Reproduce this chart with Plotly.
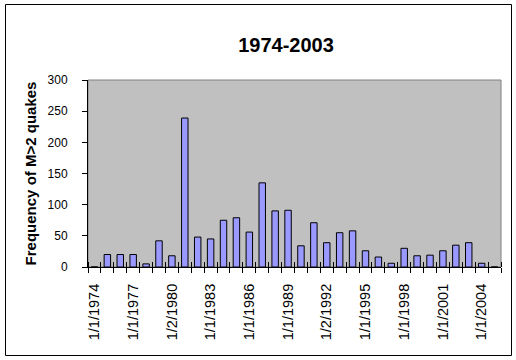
import plotly.graph_objects as go

years = list(range(1974, 2006))
quakes = [0, 20, 20, 20, 5, 42, 18, 239, 48, 45, 75, 79, 56, 135, 90, 91,
          34, 71, 39, 55, 58, 26, 16, 6, 30, 18, 19, 26, 35, 39, 6, 0]
label_years = [1974, 1977, 1980, 1983, 1986, 1989, 1992, 1995, 1998, 2001, 2004]
label_text = ["1/1/1974", "1/1/1977", "1/2/1980", "1/1/1983", "1/1/1986", "1/1/1989",
              "1/2/1992", "1/1/1995", "1/1/1998", "1/1/2001", "1/1/2004"]

W, H = 516, 360
L, R, T, B = 88, 15, 80, 93
pw, ph = W - L - R, H - T - B

fig = go.Figure()
fig.add_trace(go.Bar(
    x=years, y=quakes,
    marker=dict(color="#9999FF", line=dict(color="black", width=1)),
    width=0.5,
))

font = "Arial, Liberation Sans, sans-serif"
fig.update_layout(
    width=W, height=H,
    margin=dict(l=L, r=R, t=T, b=B, autoexpand=False),
    paper_bgcolor="white",
    plot_bgcolor="#C0C0C0",
    showlegend=False,
    font=dict(family=font, color="black"),
    title=dict(text="<b>1974-2003</b>", x=286 / W, xanchor="center",
               y=1 - 45 / H, yanchor="middle", font=dict(size=20, family=font)),
    xaxis=dict(
        range=[1973.5, 2005.5],
        tickmode="array", tickvals=label_years, ticktext=label_text,
        tickangle=-90, ticks="", tickfont=dict(size=14.5, family=font),
        ticklabelstandoff=10,
        showgrid=False, zeroline=False,
        showline=True, linecolor="black", linewidth=1,
        minor=dict(tick0=1973.5, dtick=1, ticks="outside", ticklen=5,
                   tickcolor="black", showgrid=False),
    ),
    xaxis2=dict(
        range=[1973.5, 2005.5], overlaying="x", anchor="y",
        showticklabels=False, ticks="", showgrid=False, zeroline=False,
        tickmode="array", tickvals=label_years,
        minor=dict(tick0=1973.5, dtick=1, ticks="inside", ticklen=5,
                   tickcolor="black", showgrid=False),
    ),
    yaxis=dict(
        range=[0, 300], dtick=50, tick0=0,
        ticks="outside", ticklen=5, tickcolor="black",
        tickfont=dict(size=12, family=font),
        ticklabelstandoff=12,
        showgrid=False, zeroline=False,
        showline=True, linecolor="black", linewidth=1,
        title=dict(text="<b>Frequency of M>2 quakes</b>", standoff=7,
                   font=dict(size=15, family=font)),
    ),
    shapes=[
        dict(type="rect", xref="paper", yref="paper", x0=0, x1=1, y0=0, y1=1,
             line=dict(color="#808080", width=1), layer="below"),
        dict(type="rect", xref="paper", yref="paper",
             x0=(5.5 - L) / pw, x1=(511.5 - L) / pw,
             y0=(H - B - 355.5) / ph, y1=(H - B - 4.5) / ph,
             line=dict(color="black", width=1)),
    ],
)
fig.add_trace(go.Scatter(x=[1974], y=[0], xaxis="x2", mode="markers",
                         marker=dict(opacity=0), hoverinfo="skip"))

fig.write_html("out.html",
               config={"displayModeBar": False},
               post_script="document.body.style.margin='0';"
                           "document.body.style.overflow='hidden';")
